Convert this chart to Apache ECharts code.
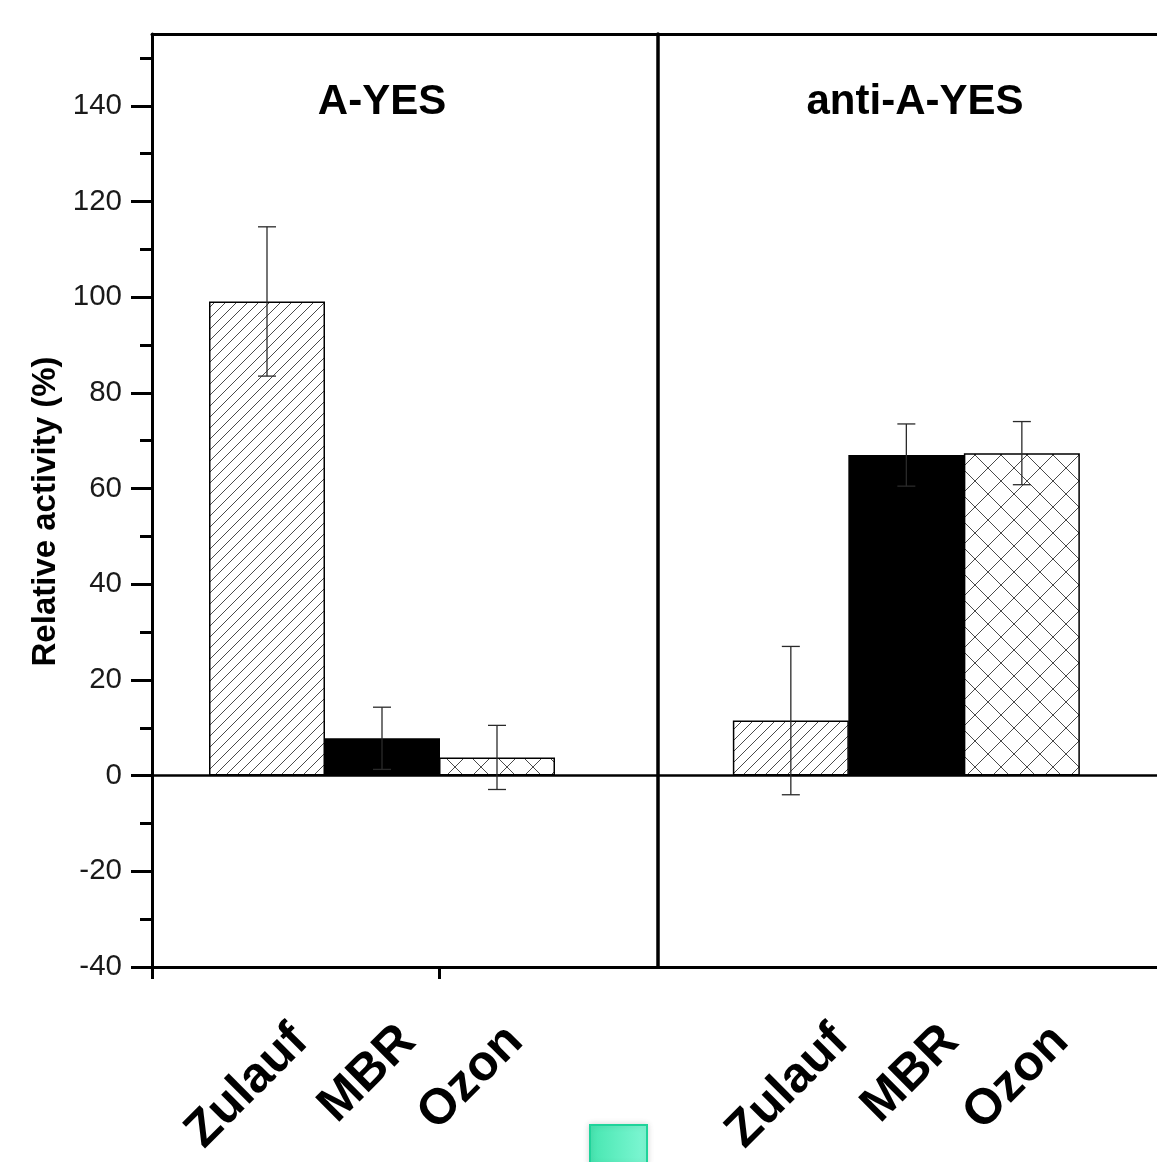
<!DOCTYPE html>
<html>
<head>
<meta charset="utf-8">
<script src="https://cdn.jsdelivr.net/npm/echarts@6/dist/echarts.min.js"></script>
<style>
html,body{margin:0;padding:0;background:#fff;}
#chart{width:1157px;height:1162px;}
</style>
</head>
<body>
<div id="chart"></div>
<script>
// ---- data ----
const categories = ['Zulauf', 'MBR', 'Ozon'];
const panelTitles = ['A-YES', 'anti-A-YES'];
const categoryPositions = [1, 2, 3];
const ayesValues = [99.1, 7.8, 3.8];
const ayesErrors = [15.6, 6.5, 6.7];
const antiValues = [11.5, 67.0, 67.4];
const antiErrors = [15.5, 6.5, 6.6];
const yMajorTicks = [-40, -20, 0, 20, 40, 60, 80, 100, 120, 140];
const yMinorTicks = [-30, -10, 10, 30, 50, 70, 90, 110, 130, 150];
const yLabel = 'Relative activity (%)';

// ---- patterns ----
function hatchPattern(size, both) {
  const c = document.createElement('canvas');
  c.width = size; c.height = size;
  const g = c.getContext('2d');
  g.fillStyle = '#fff';
  g.fillRect(0, 0, size, size);
  g.strokeStyle = '#4a4a4a';
  g.lineWidth = 1;
  g.beginPath();
  g.moveTo(-2, size + 2); g.lineTo(size + 2, -2);
  g.moveTo(-2, 2); g.lineTo(2, -2);
  g.moveTo(size - 2, size + 2); g.lineTo(size + 2, size - 2);
  if (both) {
    g.moveTo(-2, -2); g.lineTo(size + 2, size + 2);
    g.moveTo(size - 2, -2); g.lineTo(size + 2, 2);
    g.moveTo(-2, size - 2); g.lineTo(2, size + 2);
  }
  g.stroke();
  return c;
}
const diagonal = { image: hatchPattern(11, false), repeat: 'repeat' };
const cross = { image: hatchPattern(26, true), repeat: 'repeat' };
const barStyles = [
  { color: diagonal, borderColor: '#000', borderWidth: 1.5 },
  { color: '#000', borderColor: '#000', borderWidth: 1.5 },
  { color: cross, borderColor: '#000', borderWidth: 1.5 }
];

const FONT = 'Liberation Sans, Arial, Helvetica, sans-serif';

function barData(vals) {
  return categories.map((c, i) => ({ value: [categoryPositions[i], vals[i]], itemStyle: barStyles[i] }));
}
function errData(vals, errs) {
  return categories.map((c, i) => [categoryPositions[i], vals[i], errs[i]]);
}
function renderErr(params, api) {
  const x = api.value(0), y = api.value(1), e = api.value(2);
  const top = api.coord([x, y + e]);
  const bot = api.coord([x, y - e]);
  const hw = 9;
  const st = { stroke: '#2a2a2a', lineWidth: 1.3 };
  return {
    type: 'group',
    children: [
      { type: 'line', shape: { x1: top[0], y1: top[1], x2: bot[0], y2: bot[1] }, style: st },
      { type: 'line', shape: { x1: top[0] - hw, y1: top[1], x2: top[0] + hw, y2: top[1] }, style: st },
      { type: 'line', shape: { x1: bot[0] - hw, y1: bot[1], x2: bot[0] + hw, y2: bot[1] }, style: st }
    ]
  };
}

const axisLineStyle = { color: '#000', width: 3 };
const yMin = -40, yMax = 155;

function xAxisBottom(grid, min, max, ticks) {
  return {
    type: 'value', gridIndex: grid, position: 'bottom', min: min, max: max,
    axisLine: { show: true, onZero: false, lineStyle: axisLineStyle },
    axisTick: { show: ticks.length > 0, customValues: ticks, length: 12, lineStyle: { color: '#000', width: 3 } },
    axisLabel: { show: false },
    splitLine: { show: false }
  };
}
// separate label axis: same categories, own layout span for the rotated labels
function xAxisLabels(grid, min, max) {
  return {
    type: 'value', gridIndex: grid, position: 'bottom', min: min, max: max,
    axisLine: { show: false }, axisTick: { show: false }, splitLine: { show: false },
    axisLabel: {
      customValues: categoryPositions,
      formatter: v => categories[Math.round(v) - 1] || '',
      rotate: 45, margin: 49, verticalAlign: 'top',
      fontSize: 50, fontWeight: 'bold', color: '#000', fontFamily: FONT
    }
  };
}
function xAxisTop(grid, min, max) {
  return {
    type: 'value', gridIndex: grid, position: 'top', min: min, max: max,
    axisLine: { show: true, onZero: false, lineStyle: axisLineStyle },
    axisTick: { show: false }, axisLabel: { show: false }, splitLine: { show: false }
  };
}

const option = {
  backgroundColor: '#fff',
  animation: false,
  title: [
    { text: panelTitles[0], left: 382, top: 81, textAlign: 'center', padding: 0,
      textStyle: { fontSize: 42, fontWeight: 'bold', color: '#000', fontFamily: FONT } },
    { text: panelTitles[1], left: 915, top: 81, textAlign: 'center', padding: 0,
      textStyle: { fontSize: 42, fontWeight: 'bold', color: '#000', fontFamily: FONT } }
  ],
  grid: [
    { left: 152, top: 34, width: 506, height: 933, containLabel: false },
    { left: 658, top: 34, width: 499, height: 933, containLabel: false }
  ],
  xAxis: [
    xAxisBottom(0, 0, 4.4, [0, 2.5]),
    xAxisTop(0, 0, 4.4),
    xAxisBottom(1, -0.15, 4.17, []),
    xAxisTop(1, -0.15, 4.17),
    xAxisLabels(0, -0.214, 4.493),
    xAxisLabels(1, -0.5, 4.036)
  ],
  yAxis: [
    {
      type: 'value', gridIndex: 0, position: 'left', min: yMin, max: yMax,
      axisLine: { show: true, onZero: false, lineStyle: axisLineStyle },
      axisTick: { show: true, customValues: yMajorTicks, length: 21, lineStyle: { color: '#000', width: 3 } },
      axisLabel: { customValues: yMajorTicks, margin: 30, fontSize: 29.5, color: '#1a1a1a', fontFamily: FONT },
      splitLine: { show: false },
      name: yLabel, nameLocation: 'middle', nameGap: 90,
      nameTextStyle: { fontSize: 33, fontWeight: 'bold', color: '#000', fontFamily: FONT, padding: [0, 22, 0, 0] }
    },
    {
      type: 'value', gridIndex: 0, position: 'left', min: yMin, max: yMax,
      axisLine: { show: false },
      axisTick: { show: true, customValues: yMinorTicks, length: 12, lineStyle: { color: '#000', width: 3 } },
      axisLabel: { show: false }, splitLine: { show: false }
    },
    {
      type: 'value', gridIndex: 1, position: 'left', min: yMin, max: yMax,
      axisLine: { show: true, onZero: false, lineStyle: { color: '#000', width: 3.5 } },
      axisTick: { show: false }, axisLabel: { show: false }, splitLine: { show: false }
    }
  ],
  series: [
    {
      type: 'bar', xAxisIndex: 0, yAxisIndex: 0, barWidth: 116,
      data: barData(ayesValues),
      markLine: { silent: true, symbol: 'none', label: { show: false },
        lineStyle: { color: '#000', width: 2.5, type: 'solid' }, data: [{ yAxis: 0 }] }
    },
    {
      type: 'custom', xAxisIndex: 0, yAxisIndex: 0, renderItem: renderErr, z: 5,
      data: errData(ayesValues, ayesErrors)
    },
    {
      type: 'bar', xAxisIndex: 2, yAxisIndex: 2, barWidth: 116,
      data: barData(antiValues),
      markLine: { silent: true, symbol: 'none', label: { show: false },
        lineStyle: { color: '#000', width: 2.5, type: 'solid' }, data: [{ yAxis: 0 }] }
    },
    {
      type: 'custom', xAxisIndex: 2, yAxisIndex: 2, renderItem: renderErr, z: 5,
      data: errData(antiValues, antiErrors)
    }
  ],
  graphic: [
    {
      type: 'rect', left: 589, top: 1124, shape: { width: 57, height: 40 },
      style: {
        fill: { type: 'linear', x: 0, y: 0, x2: 1, y2: 0,
          colorStops: [{ offset: 0, color: '#46e6b0' }, { offset: 1, color: '#80f7d4' }] },
        stroke: '#1fd39a', lineWidth: 2,
        shadowBlur: 6, shadowColor: 'rgba(0,0,0,0.15)'
      }
    }
  ]
};

const chart = echarts.init(document.getElementById('chart'), null, { renderer: 'canvas' });
chart.setOption(option);
</script>
</body>
</html>
